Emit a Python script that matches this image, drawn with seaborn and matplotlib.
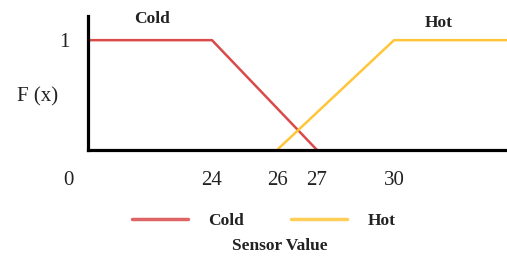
"""
Membership functions (Cold / Hot) for a temperature sensor value.
"""
import numpy as np
import matplotlib.pyplot as plt
import matplotlib.transforms as mtransforms
import seaborn as sns
import pandas as pd

# data
cold_x = [0, 24, 27]
cold_y = [1, 1, 0]
hot_x = [26, 30, 35]
hot_y = [0, 1, 1]
x_ticks = [0, 24, 26, 27, 30]
y_ticks = [1]

# the original axis is not drawn to scale: piecewise-linear display scale
knots = [0, 24, 26, 27, 30, 35]
knot_pos = [0, 124, 189, 229, 306, 419]


def _fwd(v):
    return np.interp(v, knots, knot_pos)


def _inv(p):
    return np.interp(p, knot_pos, knots)


df = pd.DataFrame({
    "x": cold_x + hot_x,
    "y": cold_y + hot_y,
    "set": ["Cold"] * len(cold_x) + ["Hot"] * len(hot_x),
})

sns.set_style("white")
plt.rcParams["font.family"] = ["Liberation Serif", "DejaVu Serif"]

fig = plt.figure(figsize=(5.07, 2.59), dpi=100)
ax = fig.add_axes([88 / 507, 109 / 259, 419 / 507, 134 / 259])

sns.lineplot(data=df, x="x", y="y", hue="set", ax=ax,
             palette={"Cold": "#d94a4a", "Hot": "#ffc63a"}, linewidth=1.8)

ax.set_xscale("function", functions=(_fwd, _inv))
ax.set_xlim(0, 35)
ax.set_ylim(0, 1.22)

for s in ["top", "right"]:
    ax.spines[s].set_visible(False)
for s in ["left", "bottom"]:
    ax.spines[s].set_color("black")
    ax.spines[s].set_linewidth(2.3)
    ax.spines[s].set_zorder(5)

ax.set_xticks(x_ticks)
ax.set_xticklabels([str(t) for t in x_ticks])
ax.set_yticks(y_ticks)
ax.set_yticklabels(["1"])
ax.tick_params(axis="x", length=0, pad=15, labelsize=15, labelcolor="#222222")
ax.tick_params(axis="y", length=0, pad=13, labelsize=15, labelcolor="#222222")
ax.xaxis.set_minor_locator(plt.NullLocator())

# "0" sits left of the origin in the original
lbl0 = ax.get_xticklabels()[0]
lbl0.set_transform(lbl0.get_transform()
                   + mtransforms.ScaledTranslation(-20 / 100, 0, fig.dpi_scale_trans))

ax.set_ylabel("F (x)", rotation=0, fontsize=15, ha="center", va="center", color="#222222")
ax.yaxis.set_label_coords(-0.12, 0.395)

ax.set_xlabel("Sensor Value", fontsize=12.5, fontweight="bold", color="#222222")
ax.xaxis.set_label_coords(0.458, -0.655)

ax.text(12.4, 1.19, "Cold", fontsize=12.5, fontweight="bold", ha="center", va="center",
        color="#222222")
ax.text(32.0, 1.16, "Hot", fontsize=12.5, fontweight="bold", ha="center", va="center",
        color="#222222")

leg = ax.legend(loc="center", bbox_to_anchor=(264 / 507, 1 - 221 / 259),
                bbox_transform=fig.transFigure, ncol=2, frameon=False,
                handlelength=3.2, handletextpad=1.2, columnspacing=2.7,
                prop={"size": 12.5, "weight": "bold"})
for text in leg.get_texts():
    text.set_color("#222222")
for line in leg.get_lines():
    line.set_linewidth(2.5)
    line.set_alpha(0.85)

fig.savefig("out.png", dpi=100)
